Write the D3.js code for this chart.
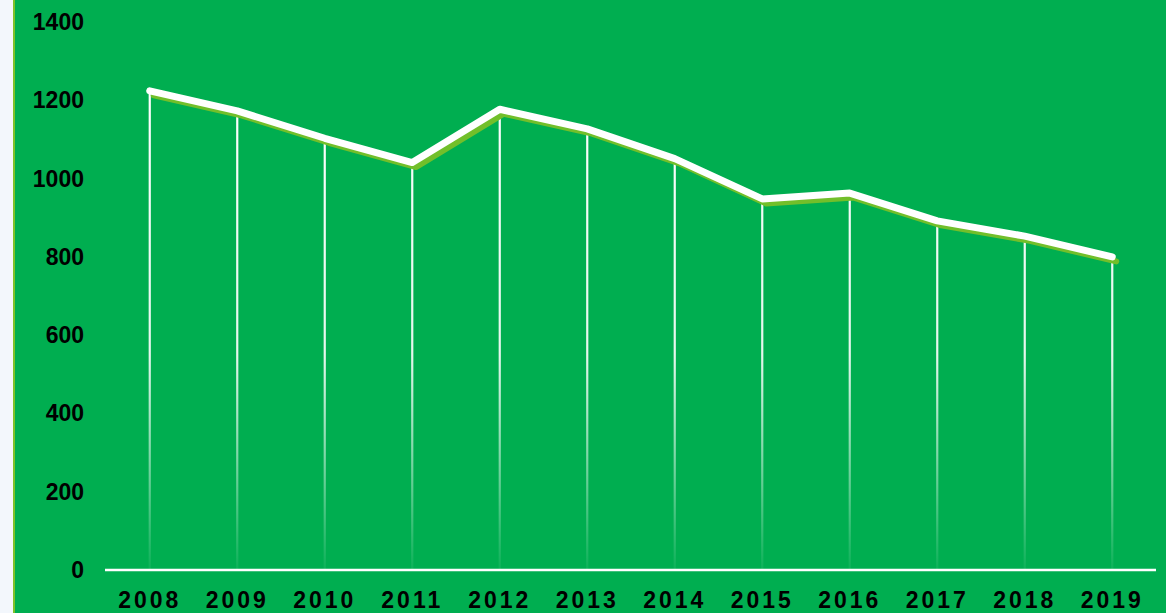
<!DOCTYPE html>
<html><head><meta charset="utf-8">
<script src="https://cdn.jsdelivr.net/npm/d3@7"></script>
<style>
html,body{margin:0;padding:0;background:#f3f7fc;}
svg{display:block;}
</style></head>
<body>
<svg id="chart" width="1166" height="613"></svg>
<script>
const years = ["2008","2009","2010","2011","2012","2013","2014","2015","2016","2017","2018","2019"];
const values = [1224, 1173, 1103, 1041, 1177, 1127, 1051, 948, 963, 892, 853, 800];
const yTicks = [0, 200, 400, 600, 800, 1000, 1200, 1400];

const W = 1166, H = 613;
const svg = d3.select("#chart");

svg.append("rect").attr("x", 0).attr("y", 0).attr("width", W).attr("height", H).attr("fill", "#f3f7fc");
svg.append("rect").attr("x", 13).attr("y", 0).attr("width", W - 13).attr("height", H).attr("fill", "#00ae50");
svg.append("rect").attr("x", 13).attr("y", 0).attr("width", 2).attr("height", H).attr("fill", "#7cc22a");

const x = d3.scalePoint().domain(years).range([106, 1156]).padding(0.5);
const y = d3.scaleLinear().domain([0, 1400]).range([570, 22]);

const defs = svg.append("defs");
const grad = defs.append("linearGradient").attr("id", "dropGrad")
  .attr("gradientUnits", "userSpaceOnUse").attr("x1", 0).attr("y1", 90).attr("x2", 0).attr("y2", 570);
grad.append("stop").attr("offset", "0%").attr("stop-color", "#ffffff").attr("stop-opacity", 1);
grad.append("stop").attr("offset", "55%").attr("stop-color", "#ffffff").attr("stop-opacity", 0.9);
grad.append("stop").attr("offset", "100%").attr("stop-color", "#ffffff").attr("stop-opacity", 0.05);

const data = years.map((yr, i) => ({ yr, v: values[i] }));

// drop lines
svg.append("g").selectAll("line").data(data).join("line")
  .attr("x1", d => x(d.yr)).attr("x2", d => x(d.yr))
  .attr("y1", d => y(d.v)).attr("y2", y(0))
  .attr("stroke", "url(#dropGrad)").attr("stroke-width", 2.2);

// baseline
svg.append("line").attr("x1", 105).attr("x2", 1156).attr("y1", y(0)).attr("y2", y(0))
  .attr("stroke", "#ffffff").attr("stroke-width", 2.5);

const line = d3.line().x(d => x(d.yr)).y(d => y(d.v));

// shadow line
svg.append("path").datum(data).attr("d", line)
  .attr("transform", "translate(4,4.5)")
  .attr("fill", "none").attr("stroke", "#72bf2a").attr("stroke-width", 6)
  .attr("stroke-linecap", "round").attr("stroke-linejoin", "round");

// main line
svg.append("path").datum(data).attr("d", line)
  .attr("fill", "none").attr("stroke", "#ffffff").attr("stroke-width", 7)
  .attr("stroke-linecap", "round").attr("stroke-linejoin", "round");

// y axis labels
svg.append("g").selectAll("text").data(yTicks).join("text")
  .attr("x", 84).attr("y", d => y(d)).attr("dy", "0.35em")
  .attr("text-anchor", "end")
  .attr("font-family", "Liberation Sans, Arial, sans-serif")
  .attr("font-weight", "bold").attr("font-size", 23).attr("fill", "#000")
  .text(d => d);

// x axis labels
svg.append("g").selectAll("text").data(years).join("text")
  .attr("x", d => x(d)).attr("y", 608)
  .attr("text-anchor", "middle")
  .attr("font-family", "Liberation Sans, Arial, sans-serif")
  .attr("font-weight", "bold").attr("font-size", 23).attr("fill", "#000")
  .attr("letter-spacing", "3px")
  .text(d => d);
</script>
</body></html>
